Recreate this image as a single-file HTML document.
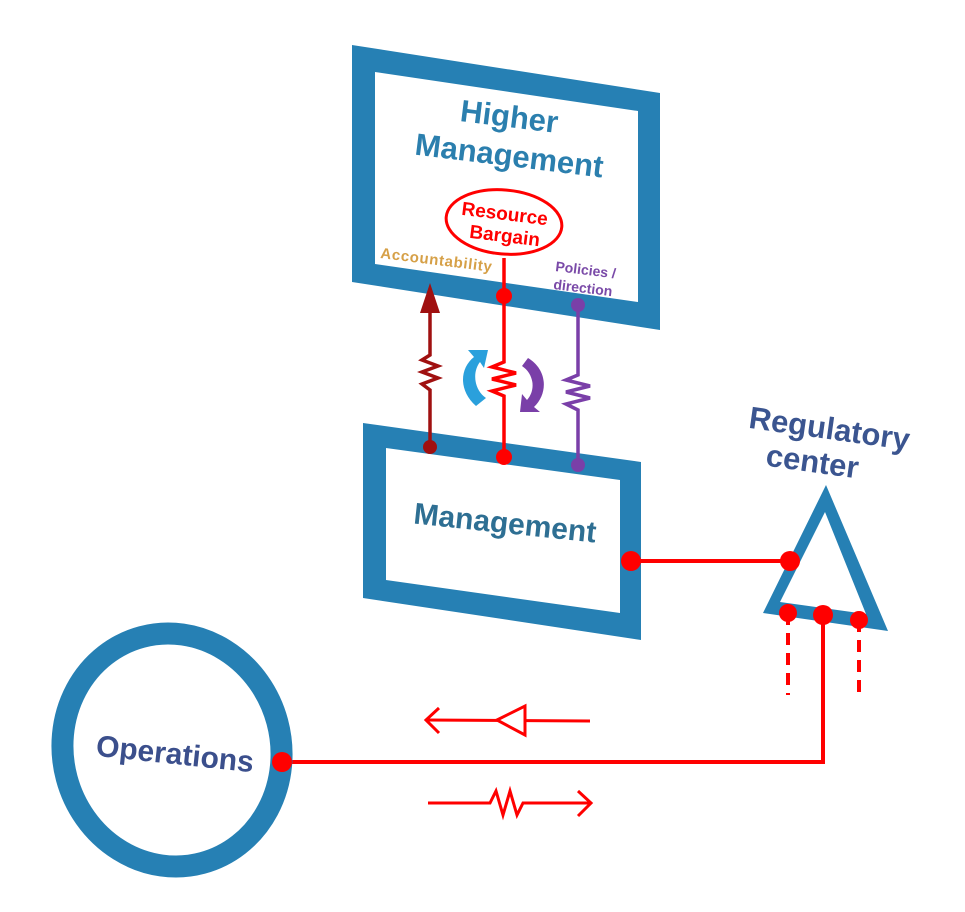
<!DOCTYPE html>
<html><head><meta charset="utf-8"><style>
html,body{margin:0;padding:0;background:#fff;}
svg{display:block;}
text{font-family:"Liberation Sans",sans-serif;font-weight:bold;}
</style></head><body>
<svg width="965" height="912" viewBox="0 0 965 912" xmlns="http://www.w3.org/2000/svg">
<path d="M352,45 L660,93 L660,330 L352,282 Z M375,72 L638,111 L638,302 L375,264 Z" fill="#2680b4" fill-rule="evenodd"/>
<text x="508" y="127" font-size="31" fill="#2b7fae" text-anchor="middle" transform="rotate(7 508 127)">Higher</text>
<text x="508" y="166" font-size="31" fill="#2b7fae" text-anchor="middle" transform="rotate(7 508 166)">Management</text>
<ellipse cx="504" cy="222" rx="58" ry="32" fill="#fff" stroke="#f00" stroke-width="3" transform="rotate(5 504 222)"/>
<text x="504" y="220" font-size="19" fill="#f00" text-anchor="middle" transform="rotate(7 504 220)">Resource</text>
<text x="504" y="242" font-size="19" fill="#f00" text-anchor="middle" transform="rotate(7 504 242)">Bargain</text>
<text x="380" y="258" font-size="15" fill="#d6a047" transform="rotate(7 380 258)" textLength="112">Accountability</text>
<text x="555" y="271" font-size="14" fill="#7a4aa8" transform="rotate(7 555 271)">Policies /</text>
<text x="553" y="289" font-size="14" fill="#7a4aa8" transform="rotate(7 553 289)">direction</text>

<path d="M363,423 L641,462 L641,640 L363,598 Z M386,448 L620,480 L620,613 L386,580 Z" fill="#2680b4" fill-rule="evenodd"/>
<text x="504" y="533" font-size="30" fill="#2e6f93" text-anchor="middle" transform="rotate(6 504 533)">Management</text>

<polyline points="430,300 430,355 422,360 438,366 422,372 438,378 422,384 430,390 430,447" fill="none" stroke="#a01010" stroke-width="3.5"/>
<polygon points="430,283 420,313 440,313" fill="#a01010"/>
<circle cx="430" cy="447" r="7" fill="#a01010"/>
<polyline points="504,258 504,362 492,367 516,373 492,379 516,385 492,391 504,396 504,457" fill="none" stroke="#f00" stroke-width="3.5"/>
<circle cx="504" cy="296" r="8" fill="#f00"/>
<circle cx="504" cy="457" r="8" fill="#f00"/>
<polyline points="578,305 578,375 566,380 590,386 566,392 590,398 566,404 578,410 578,465" fill="none" stroke="#7a3fa8" stroke-width="3.5"/>
<circle cx="578" cy="305" r="7" fill="#7a3fa8"/>
<circle cx="578" cy="465" r="7" fill="#7a3fa8"/>
<path d="M476,406 C458,390 460,368 474,357 L468,350 L488,350 L484,368 L480,362 C472,372 474,390 486,398 Z" fill="#2aa0dc"/>
<path d="M528,358 C548,370 548,394 534,407 L540,412 L520,412 L522,394 L527,400 C536,390 534,374 522,366 Z" fill="#7a3fa8"/>

<text x="828" y="439" font-size="31" fill="#3b5590" text-anchor="middle" transform="rotate(8 828 439)">Regulatory</text>
<text x="811" y="472" font-size="31" fill="#3b5590" text-anchor="middle" transform="rotate(8 811 472)">center</text>
<path d="M826,485 L888,631 L763,613 Z M825,512 L866,614 L780,602 Z" fill="#2680b4" fill-rule="evenodd"/>

<line x1="631" y1="561" x2="790" y2="561" stroke="#f00" stroke-width="4"/>
<circle cx="631" cy="561" r="10" fill="#f00"/>
<circle cx="790" cy="561" r="10" fill="#f00"/>
<line x1="788" y1="613" x2="788" y2="695" stroke="#f00" stroke-width="4" stroke-dasharray="12,8"/>
<line x1="859" y1="620" x2="859" y2="700" stroke="#f00" stroke-width="4" stroke-dasharray="12,8"/>
<circle cx="788" cy="613" r="9" fill="#f00"/>
<circle cx="859" cy="620" r="9" fill="#f00"/>
<polyline points="823,615 823,762 282,762" fill="none" stroke="#f00" stroke-width="4"/>
<circle cx="823" cy="615" r="10" fill="#f00"/>

<ellipse cx="172" cy="750" rx="109" ry="117" fill="#fff" stroke="#2680b4" stroke-width="22" transform="rotate(-15 172 750)"/>
<text x="174" y="764" font-size="30" fill="#3b4f8c" text-anchor="middle" transform="rotate(6 174 764)">Operations</text>
<circle cx="282" cy="762" r="10" fill="#f00"/>

<line x1="426" y1="720" x2="590" y2="721" stroke="#f00" stroke-width="3"/>
<polyline points="439,708 426,720 439,733" fill="none" stroke="#f00" stroke-width="3"/>
<polygon points="497,720 525,706 525,735" fill="#fff" stroke="#f00" stroke-width="3"/>
<polyline points="428,803 490,803 496,791 503,815 510,791 517,815 523,803 590,803" fill="none" stroke="#f00" stroke-width="3"/>
<polyline points="578,791 591,803 578,816" fill="none" stroke="#f00" stroke-width="3"/>
</svg>
</body></html>
